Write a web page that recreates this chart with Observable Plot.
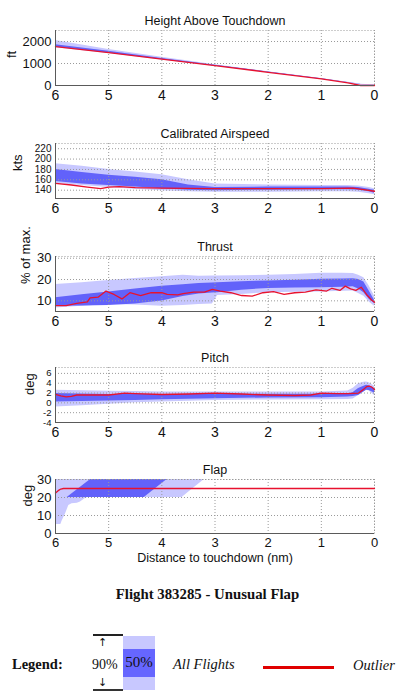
<!DOCTYPE html>
<html><head><meta charset="utf-8">
<script src="https://cdn.jsdelivr.net/npm/d3@7"></script>
<script src="https://cdn.jsdelivr.net/npm/@observablehq/plot@0.6"></script>
<style>
body{margin:0;background:#fff;}
#root{position:relative;width:415px;height:696px;overflow:hidden;font-family:"Liberation Sans",Arial,sans-serif;}
#root svg{position:absolute;left:0;overflow:visible;}
.serif{position:absolute;font-family:"Liberation Serif","Times New Roman",serif;color:#111;line-height:1;white-space:nowrap;}
.blk{position:absolute;}
</style></head><body><div id="root"></div>
<script>
// ---------- data ----------
const xTicks = [6, 5, 4, 3, 2, 1, 0];

// Height Above Touchdown (ft)
const hX     = [6, 5, 4, 3, 2, 1, 0.5, 0.25, 0];
const h90lo  = [1720, 1450, 1160, 875, 578, 278, 118, 28, 0];
const h90hi  = [2050, 1640, 1280, 945, 625, 318, 150, 60, 20];
const h50lo  = [1745, 1475, 1180, 892, 590, 288, 126, 38, 0];
const h50hi  = [1850, 1560, 1232, 922, 610, 304, 140, 50, 10];
const hRedX  = [6, 5, 4, 3, 2, 1, 0.5, 0.26, 0];
const hRed   = [1765, 1490, 1195, 905, 600, 300, 115, 0, 0];
const hTicks = [0, 1000, 2000];

// Calibrated Airspeed (kts)
const aX     = [6, 5.5, 5, 4.5, 4, 3.5, 3, 2, 1, 0.5, 0.3, 0.1, 0];
const a90lo  = [153, 149, 145, 142, 139, 137, 136, 136, 137, 137, 136, 133, 131];
const a90hi  = [191, 186, 180, 175, 170, 160, 152, 150, 149, 149, 148, 145, 143];
const a50lo  = [157, 152, 149, 146, 143, 140, 139, 140, 141, 141, 140, 137, 134];
const a50hi  = [180, 174, 169, 165, 160, 150, 145, 146, 146, 146, 145, 142, 140];
const aRedX  = [6, 5.7, 5.4, 5.15, 5.0, 4.8, 4.5, 4, 3, 2, 1, 0.4, 0.2, 0];
const aRed   = [153, 150, 146, 143, 146, 147, 145, 144, 143, 143, 143, 144, 141, 138];
const aTicks = [140, 160, 180, 200, 220];

// Thrust (% of max.)
const tX     = [6, 5.5, 5, 4.5, 4, 3.6, 3.3, 3.05, 2.95, 2.5, 2, 1.5, 1, 0.6, 0.4, 0.3, 0.2, 0.1, 0];
const t90hi  = [17.7, 18.5, 19.6, 20.5, 21.3, 22, 21.5, 21.6, 21.6, 21.8, 22, 22.4, 22.9, 22.9, 22.8, 22, 20.8, 17, 12.3];
const t90lo  = [6.7, 7.5, 8.3, 8, 7.5, 7.8, 8.3, 8.5, 12.5, 13, 13.8, 14, 14.1, 14.5, 14.6, 13.5, 12.2, 9.5, 7.5];
const t50hi  = [11.4, 12.8, 14.2, 15.6, 16.9, 17.6, 18.1, 18.4, 18.5, 19, 19.3, 19.7, 20.1, 20.3, 20.4, 20, 18.8, 14.6, 10.3];
const t50lo  = [7.5, 7.6, 7.8, 8.5, 9.9, 12, 13.2, 13.7, 13.8, 15, 15.8, 16, 16.1, 16.4, 16.6, 15.5, 13.8, 10.7, 8.8];
const tRedX  = [6, 5.8, 5.6, 5.4, 5.35, 5.2, 5.05, 4.9, 4.75, 4.6, 4.4, 4.2, 4.0, 3.9, 3.7, 3.6, 3.4, 3.2, 3.05, 2.9, 2.7, 2.5, 2.3, 2.1, 1.9, 1.7, 1.5, 1.3, 1.1, 0.9, 0.8, 0.65, 0.55, 0.45, 0.35, 0.25, 0.15, 0.05, 0];
const tRed   = [7.8, 7.8, 8.8, 9.5, 11.4, 11.7, 14.6, 13.0, 10.9, 13.8, 12.5, 13.8, 13.8, 13.0, 12.8, 13.4, 14.1, 14.1, 15.4, 14.6, 13.8, 12.5, 12.2, 13.8, 14.3, 13.0, 13.8, 14.1, 15.1, 14.6, 15.9, 14.9, 16.9, 15.6, 14.9, 16.4, 13.0, 10.3, 9.3];
const tTicks = [10, 20, 30];

// Pitch (deg)
const pX     = [6, 5.5, 5, 4.5, 4, 3, 2, 1, 0.5, 0.4, 0.3, 0.2, 0.15, 0.1, 0];
const p90hi  = [2.55, 2.45, 2.35, 2.3, 2.2, 2.2, 2.2, 2.2, 2.4, 3.0, 3.9, 4.2, 4.25, 4.1, 3.4];
const p90lo  = [-0.85, -0.6, -0.3, 0, 0.2, 0.5, 0.6, 0.65, 0.7, 0.8, 1.5, 2.2, 2.55, 2.4, 1.5];
const p50hi  = [1.9, 1.8, 1.7, 1.7, 1.7, 1.7, 1.75, 1.75, 1.75, 2.1, 2.9, 3.4, 3.6, 3.5, 2.9];
const p50lo  = [0.2, 0.3, 0.4, 0.5, 0.65, 0.85, 1.0, 1.05, 1.2, 1.3, 1.5, 2.2, 2.55, 2.5, 2.0];
const pRedX  = [6, 5.9, 5.8, 5.7, 5.6, 5.3, 5, 4.7, 4.5, 4, 3.5, 3, 2.5, 2, 1.5, 1.2, 1, 0.7, 0.5, 0.3, 0.2, 0.15, 0.1, 0.05, 0];
const pRed   = [1.75, 1.4, 1.2, 1.3, 1.6, 1.6, 1.6, 2.0, 1.9, 1.7, 1.8, 2.0, 1.8, 1.6, 1.5, 1.6, 2.0, 1.9, 1.9, 2.0, 2.8, 3.3, 3.4, 3.2, 2.7];
const pTicks = [-4, -2, 0, 2, 4, 6];

// Flap (deg)
const f90X   = [6, 5.9, 5.875, 5.81, 5.75, 5.69, 5.59, 5.53, 5.44, 5.39, 3.62, 3.2];
const f90lo  = [5, 5, 7, 11, 15.5, 16.5, 16.8, 17.5, 19.5, 20, 20, 30];
const f90hi  = [30, 30, 30, 30, 30, 30, 30, 30, 30, 30, 30, 30];
const f50X   = [5.78, 5.34, 4.33, 3.9];
const f50lo  = [20, 20, 20, 30];
const f50hi  = [20, 30, 30, 30];
const fRedX  = [6, 5.95, 5.9, 5.85, 5.8, 0];
const fRed   = [22.5, 23.8, 24.7, 25, 25, 25];
const fTicks = [0, 10, 20, 30];

// ---------- style ----------
const LIGHT = "#c8c8ff", DARK = "#6262fa", RED = "#e8122e", GRID = "#9a9a9a", AX = "#5a5a5a";

const band = (x, lo, hi) => x.map((v, i) => ({x: v, lo: lo[i], hi: hi[i]}));
const line = (x, y) => x.map((v, i) => ({x: v, y: y[i]}));

function panel({top, h, yDomain, yTicks, yFont = 13, title, ylabel, ylabelDx, b90, b50, red, xlabel}) {
  const mt = 24, mb = xlabel ? 40 : 24;
  const marks = [
    Plot.areaY(b90, {x: "x", y1: "lo", y2: "hi", fill: LIGHT}),
    Plot.areaY(b50, {x: "x", y1: "lo", y2: "hi", fill: DARK}),
    Plot.gridX(xTicks, {stroke: GRID, strokeOpacity: 1, strokeDasharray: "1,2"}),
    Plot.gridY(yTicks, {stroke: GRID, strokeOpacity: 1, strokeDasharray: "1,2"}),
    Plot.frame({stroke: GRID, strokeDasharray: "1,2"}),
    Plot.line(red, {x: "x", y: "y", stroke: RED, strokeWidth: 1.3}),
    Plot.ruleX([6], {stroke: AX}),
    Plot.ruleY([yDomain[0]], {stroke: AX}),
    Plot.axisX(xTicks, {tickSize: 0, tickPadding: xlabel ? 4 : 5, fontSize: xlabel ? 13 : 14, label: null, tickFormat: d => String(d), fill: "#111"}),
    Plot.axisY(yTicks, {tickSize: 0, tickPadding: 4, fontSize: yFont, label: null, tickFormat: d => String(d), fill: "#111"}),
    Plot.text([title], {text: d => d, frameAnchor: "top", dy: -14, fontSize: 12.5, fill: "#111"}),
    Plot.text([ylabel], {text: d => d, frameAnchor: "left", dx: -ylabelDx, rotate: -90, fontSize: 13, fill: "#111"})
  ];
  if (xlabel) marks.push(Plot.text([xlabel], {text: d => d, frameAnchor: "bottom", dy: 28.5, fontSize: 12.5, fill: "#111"}));
  const svg = Plot.plot({
    width: 415, height: mt + h + mb,
    marginTop: mt, marginBottom: mb, marginLeft: 55, marginRight: 41,
    x: {domain: [6, 0]},
    y: {domain: yDomain},
    style: {fontFamily: "'Liberation Sans', Arial, sans-serif", fontSize: "13px", background: "transparent"},
    marks
  });
  svg.style.top = (top - mt) + "px";
  document.getElementById("root").appendChild(svg);
}

panel({top: 30, h: 55, yDomain: [0, 2500], yTicks: hTicks, title: "Height Above Touchdown", ylabel: "ft", ylabelDx: 44,
  b90: band(hX, h90lo, h90hi), b50: band(hX, h50lo, h50hi), red: line(hRedX, hRed)});
panel({top: 142.5, h: 55, yDomain: [124, 230], yTicks: aTicks, yFont: 10, title: "Calibrated Airspeed", ylabel: "kts", ylabelDx: 38,
  b90: band(aX, a90lo, a90hi), b50: band(aX, a50lo, a50hi), red: line(aRedX, aRed)});
panel({top: 255.5, h: 55, yDomain: [5, 30.8], yTicks: tTicks, title: "Thrust", ylabel: "% of max.", ylabelDx: 30,
  b90: band(tX, t90lo, t90hi), b50: band(tX, t50lo, t50hi), red: line(tRedX, tRed)});
panel({top: 367, h: 55, yDomain: [-4, 7.2], yTicks: pTicks, yFont: 9.5, title: "Pitch", ylabel: "deg", ylabelDx: 26,
  b90: band(pX, p90lo, p90hi), b50: band(pX, p50lo, p50hi), red: line(pRedX, pRed)});
panel({top: 479, h: 54, yDomain: [0, 30], yTicks: fTicks, title: "Flap", ylabel: "deg", ylabelDx: 28,
  b90: band(f90X, f90lo, f90hi), b50: band(f50X, f50lo, f50hi), red: line(fRedX, fRed), xlabel: "Distance to touchdown (nm)"});

// ---------- caption & legend ----------
const root = document.getElementById("root");
function add(html) { root.insertAdjacentHTML("beforeend", html); }
add(`<div class="serif" style="left:0;width:415px;text-align:center;top:587px;font-size:14.8px;font-weight:bold;">Flight 383285 - Unusual Flap</div>`);
add(`<div class="serif" style="left:12px;top:657px;font-size:14.5px;font-weight:bold;">Legend:</div>`);
add(`<div class="blk" style="left:93px;top:634px;width:30px;height:2px;background:#222;"></div>`);
add(`<div class="blk" style="left:93px;top:689px;width:30px;height:2px;background:#333;"></div>`);
add(`<div class="blk" style="left:98px;top:637px;font-family:'DejaVu Sans';font-size:11px;line-height:1;color:#111;">↑</div>`);
add(`<div class="blk" style="left:98px;top:677px;font-family:'DejaVu Sans';font-size:11px;line-height:1;color:#111;">↓</div>`);
add(`<div class="serif" style="left:92px;top:658px;font-size:14px;">90%</div>`);
add(`<div class="blk" style="left:123px;top:636px;width:32px;height:54px;background:${LIGHT};"></div>`);
add(`<div class="blk" style="left:123px;top:649px;width:32px;height:28px;background:#6666ff;"></div>`);
add(`<div class="serif" style="left:122px;width:34px;text-align:center;top:655px;font-size:15px;">50%</div>`);
add(`<div class="serif" style="left:173px;top:657px;font-size:14.5px;font-style:italic;">All Flights</div>`);
add(`<div class="blk" style="left:263px;top:666px;width:71px;height:3px;background:#e00000;"></div>`);
add(`<div class="serif" style="left:353px;top:658px;font-size:14.5px;font-style:italic;">Outlier</div>`);
</script></body></html>
